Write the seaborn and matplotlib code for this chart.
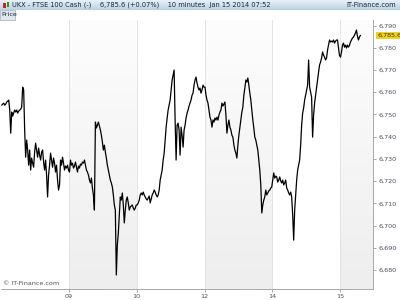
import numpy as np
import pandas as pd
import matplotlib
matplotlib.use("Agg")
import matplotlib.pyplot as plt
from matplotlib.colors import LinearSegmentedColormap
from matplotlib.patches import Rectangle
import seaborn as sns

# ---------------- data (FTSE 100 cash, 10-minute bars) ----------------
session_labels = ["08", "09", "10", "12", "14", "15"]
bars_per_session = 68

s08 = [6754.2, 6754.7, 6755.1, 6754.2, 6754.7, 6755.6, 6756.0, 6756.5, 6752.0, 6741.6,
       6751.1, 6749.3, 6750.6, 6752.0, 6751.1, 6752.0, 6750.6, 6751.5, 6752.0, 6752.4,
       6753.3, 6762.3, 6761.0, 6743.0, 6730.8, 6738.5, 6734.0, 6727.2, 6734.0, 6725.0,
       6730.4, 6728.1, 6726.3, 6733.1, 6737.1, 6734.0, 6730.8, 6734.9, 6731.7, 6729.5,
       6733.1, 6734.0, 6728.6, 6725.0, 6729.5, 6722.8, 6712.9, 6722.8, 6727.2, 6732.6,
       6729.5, 6726.3, 6730.4, 6728.1, 6724.1, 6727.2, 6720.5, 6716.0, 6718.3, 6729.5,
       6727.2, 6730.8, 6728.1, 6725.0, 6726.8, 6725.9, 6727.2, 6725.0]
s09 = [6724.1, 6729.5, 6727.2, 6728.1, 6725.9, 6726.8, 6728.6, 6726.3, 6724.1, 6726.8,
       6725.9, 6727.7, 6727.2, 6728.6, 6728.1, 6729.5, 6727.2, 6725.0, 6724.1, 6722.8,
       6720.5, 6719.2, 6721.4, 6716.9, 6713.8, 6707.0, 6746.6, 6743.9, 6745.2, 6746.6,
       6744.8, 6743.0, 6740.7, 6737.6, 6734.0, 6736.2, 6733.1, 6730.4, 6727.2, 6725.0,
       6722.8, 6720.5, 6719.2, 6717.4, 6713.8, 6709.3, 6707.0, 6677.8, 6691.3, 6696.7,
       6704.8, 6712.9, 6711.5, 6714.7, 6709.3, 6701.2, 6707.0, 6711.5, 6712.9, 6710.2,
       6707.0, 6708.4, 6708.8, 6709.3, 6707.9, 6707.0, 6707.9, 6709.3]
s10 = [6709.3, 6710.2, 6711.5, 6713.8, 6714.7, 6713.8, 6715.1, 6713.8, 6712.9, 6712.0,
       6711.5, 6712.4, 6713.3, 6710.2, 6712.0, 6713.8, 6714.7, 6716.0, 6715.1, 6713.8,
       6712.9, 6713.8, 6716.0, 6720.5, 6722.8, 6725.0, 6729.5, 6732.6, 6738.5, 6744.3,
       6748.4, 6752.0, 6754.2, 6756.5, 6761.0, 6765.5, 6767.7, 6770.0, 6747.5, 6729.5,
       6745.2, 6746.1, 6743.0, 6731.7, 6744.3, 6740.7, 6735.3, 6743.0, 6745.2, 6748.4,
       6750.6, 6752.0, 6753.8, 6755.1, 6756.5, 6758.7, 6759.6, 6763.2, 6765.5, 6766.8,
       6764.1, 6762.3, 6761.0, 6761.9, 6759.6, 6761.0, 6763.2, 6762.3]
s12 = [6762.3, 6758.7, 6756.5, 6755.1, 6752.0, 6748.8, 6747.5, 6744.3, 6747.5, 6746.6,
       6748.4, 6747.5, 6748.8, 6747.5, 6749.7, 6751.1, 6752.0, 6755.1, 6753.8, 6754.7,
       6755.6, 6749.7, 6741.6, 6745.2, 6747.5, 6744.3, 6743.0, 6740.7, 6739.8, 6736.2,
       6734.0, 6732.6, 6730.4, 6736.2, 6740.7, 6744.3, 6747.5, 6751.1, 6753.3, 6758.7,
       6761.9, 6765.5, 6764.6, 6766.4, 6763.2, 6759.6, 6756.5, 6752.0, 6747.5, 6743.9,
       6739.8, 6738.5, 6736.2, 6734.0, 6729.5, 6725.0, 6718.3, 6705.7, 6709.3, 6711.5,
       6712.9, 6716.0, 6713.8, 6714.7, 6715.6, 6716.0, 6716.9, 6717.4]
s14 = [6720.5, 6723.7, 6721.4, 6722.3, 6721.9, 6719.6, 6720.5, 6721.9, 6720.1, 6719.2,
       6720.5, 6718.3, 6719.2, 6720.5, 6716.9, 6716.0, 6714.7, 6713.8, 6715.1, 6712.9,
       6704.8, 6693.5, 6707.0, 6713.8, 6720.5, 6725.0, 6727.2, 6729.5, 6736.2, 6745.2,
       6750.6, 6752.9, 6756.5, 6758.7, 6761.0, 6763.2, 6774.5, 6762.3, 6760.1, 6757.8,
       6739.8, 6749.7, 6755.1, 6758.7, 6762.3, 6765.5, 6769.1, 6772.3, 6773.6, 6775.4,
       6778.1, 6776.7, 6775.8, 6774.5, 6775.4, 6779.0, 6781.2, 6783.5, 6782.6, 6783.0,
       6782.6, 6783.5, 6782.1, 6783.0, 6783.5, 6783.5, 6780.0, 6776.5]
s15 = [6775.8, 6778.1, 6781.2, 6782.1, 6780.3, 6781.2, 6779.9, 6781.2, 6780.3, 6781.2,
       6782.6, 6783.5, 6784.4, 6784.8, 6785.7, 6786.6, 6788.0, 6785.3, 6783.5, 6784.8,
       6785.6]

y_ticks = list(range(6680, 6800, 10))
last_price = 6785.6
header_left = "UKX - FTSE 100 Cash (-)    6,785.6 (+0.07%)    10 minutes  Jan 15 2014 07:52"
header_right = "IT-Finance.com"

# ---------------- build table ----------------
sessions = [s08, s09, s10, s12, s14, s15]
rows = []
for si, vals in enumerate(sessions):
    for i, v in enumerate(vals):
        rows.append({"t": si + (i + 0.5) / bars_per_session, "price": v})
df = pd.DataFrame(rows)

# ---------------- figure ----------------
sns.set_style("white")
plt.rcParams["font.family"] = ["DejaVu Sans"]
fig = plt.figure(figsize=(4, 3), dpi=100)
fig.patch.set_facecolor("white")

W, H = 400.0, 300.0
ax_left, ax_right, ax_top, ax_bot = 1.25, 373.0, 20.0, 289.0
ax = fig.add_axes([ax_left / W, 1 - ax_bot / H, (ax_right - ax_left) / W, (ax_bot - ax_top) / H])

ymin, ymax = 6671.5, 6792.5
xmax = len(sessions) - 1 + 0.487

band_cmap = LinearSegmentedColormap.from_list("band", ["#fdfdfd", "#eeeeee"])
grad = np.linspace(0, 1, 200).reshape(-1, 1)[::-1]
for si in range(len(sessions)):
    if si % 2 == 1:
        right = min(si + 1, xmax)
        ax.imshow(grad, cmap=band_cmap, aspect="auto", origin="lower",
                  extent=[si, right, ymin, ymax], zorder=0, vmin=0, vmax=1)
for si in range(1, len(sessions)):
    ax.axvline(si, color="#e0e0e0", lw=0.6, zorder=1)

sns.lineplot(data=df, x="t", y="price", ax=ax, color="black", lw=0.9,
             estimator=None, sort=False, zorder=3)

ax.set_xlim(0, xmax)
ax.set_ylim(ymin, ymax)
ax.set_xlabel("")
ax.set_ylabel("")
ax.set_xticks(range(1, len(sessions)))
ax.set_xticklabels(session_labels[1:])
ax.set_yticks(y_ticks)
ax.set_yticklabels([f"{v:,}" for v in y_ticks])
ax.yaxis.tick_right()
ax.tick_params(axis="y", direction="out", length=2.5, width=0.5, color="#888888",
               labelsize=4.6, labelcolor="#4a5060", pad=1.5, right=True, left=False)
ax.tick_params(axis="x", direction="out", length=2.5, width=0.5, color="#888888",
               labelsize=4.6, labelcolor="#4a5060", pad=1.0, bottom=True)
for side in ["top", "left"]:
    ax.spines[side].set_visible(False)
for side in ["right", "bottom"]:
    ax.spines[side].set_color("#a8a8a8")
    ax.spines[side].set_linewidth(0.7)

# last price marker
ax.annotate(f"{last_price:,.1f}", xy=(1.0, last_price), xycoords=("axes fraction", "data"),
            xytext=(3, 0), textcoords="offset points", fontsize=4.6, color="#303030",
            va="center", ha="left",
            bbox=dict(boxstyle="square,pad=0.15", fc="#f2d21a", ec="none"))

ax.text(0.005, 0.012, "© IT-Finance.com", transform=ax.transAxes, fontsize=4.6,
        color="#505050", ha="left", va="bottom", zorder=5)

# header bar
hax = fig.add_axes([0, 1 - 10 / H, 1, 10 / H])
head_cmap = LinearSegmentedColormap.from_list("head", ["#e8f1f7", "#b9d2e2"])
hax.imshow(np.linspace(0, 1, 50).reshape(-1, 1), cmap=head_cmap, aspect="auto",
           extent=[0, 1, 0, 1], origin="upper")
hax.set_xlim(0, 1)
hax.set_ylim(0, 1)
hax.axis("off")
hax.add_patch(Rectangle((3 / W, 0.2), 2.5 / W, 0.5, fc="#d42020", ec="none"))
hax.add_patch(Rectangle((6.5 / W, 0.3), 2.5 / W, 0.55, fc="#20a020", ec="none"))
hax.text(12 / W, 0.5, header_left, fontsize=4.8, color="#1a2540", va="center", ha="left")
hax.text(1 - 4 / W, 0.5, header_right, fontsize=4.8, color="#1a2540", va="center", ha="right")

# "Price" pane label
fig.patches.append(Rectangle((0, 1 - 19.5 / H), 15 / W, 9.5 / H, transform=fig.transFigure,
                             fc="#dfe6ec", ec="#9fb0c0", lw=0.5))
fig.text(1.5 / W, 1 - 15 / H, "Price", fontsize=4.6, color="#1a2540", va="center", ha="left")

fig.savefig("out.png", dpi=100)
